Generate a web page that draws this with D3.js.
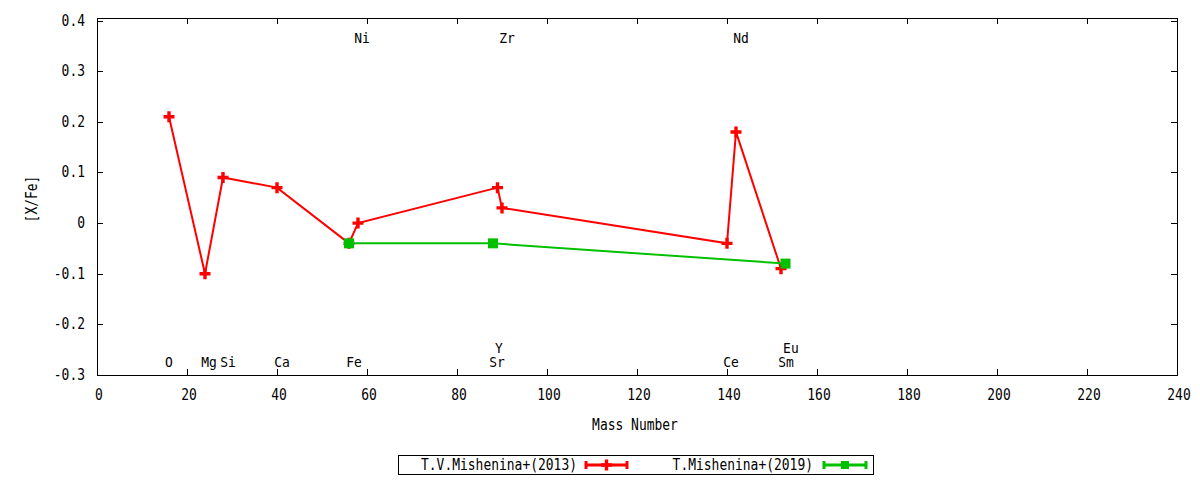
<!DOCTYPE html>
<html>
<head>
<meta charset="utf-8">
<script src="https://cdn.jsdelivr.net/npm/d3@7/dist/d3.min.js"></script>
<style>
  body { margin: 0; background: #fff; }
  text { font-family: "DejaVu Sans Mono", monospace; font-size: 15px; fill: #000; }
</style>
</head>
<body>
<svg id="chart" width="1200" height="480"></svg>
<script>
// ---- data ----
const series2013Mass  = [16, 24, 28, 40, 56, 58, 89, 90, 140, 142, 152];
const series2013Value = [0.21, -0.10, 0.09, 0.07, -0.04, 0.00, 0.07, 0.03, -0.04, 0.18, -0.09];
const series2019Mass  = [56, 88, 153];
const series2019Value = [-0.04, -0.04, -0.08];
const seriesNames = ["T.V.Mishenina+(2013)", "T.Mishenina+(2019)"];
const xTicks = [0, 20, 40, 60, 80, 100, 120, 140, 160, 180, 200, 220, 240];
const yTicks = [-0.3, -0.2, -0.1, 0, 0.1, 0.2, 0.3, 0.4];
const yTickLabels = ["-0.3", "-0.2", "-0.1", "0", "0.1", "0.2", "0.3", "0.4"];
// element labels: name, x position (mass units), row
const elemNames = ["O", "Mg", "Si", "Ca", "Fe", "Sr", "Y", "Ce", "Sm", "Eu", "Ni", "Zr", "Nd"];
const elemX     = [16, 24.9, 29.1, 41.1, 57.1, 88.9, 89.3, 140.9, 153.1, 154.2, 58.9, 91.1, 143.1];
const elemRow   = ["low", "low", "low", "low", "low", "low", "mid", "low", "low", "mid", "top", "top", "top"];
const rowValue  = { low: -0.275, mid: -0.247, top: 0.366 };

// ---- layout ----
const svg = d3.select("#chart");
const L = 97, R = 1177, T = 18, B = 375;
const x = d3.scaleLinear().domain([0, 240]).range([L, R]);
const y = d3.scaleLinear().domain([-0.3, 0.405]).range([B, T]);
const RED = "#ff0000", GREEN = "#00c000";
const CW = 7.8; // char width

function txt(g, s, px, py, anchor, fs) {
  const t = g.append("text").attr("x", px).attr("y", py).text(s)
    .attr("text-anchor", anchor || "middle")
    .attr("textLength", s.length * CW).attr("lengthAdjust", "spacingAndGlyphs");
  if (fs) t.style("font-size", fs + "px");
  return t;
}

// ticks (inside, mirrored)
const axes = svg.append("g").attr("stroke", "#000").attr("stroke-width", 1);
xTicks.forEach(v => {
  const px = Math.round(x(v)) + 0.5;
  axes.append("line").attr("x1", px).attr("x2", px).attr("y1", B).attr("y2", B - 6);
  axes.append("line").attr("x1", px).attr("x2", px).attr("y1", T).attr("y2", T + 6);
});
yTicks.forEach(v => {
  const py = Math.round(y(v)) + 0.5;
  axes.append("line").attr("x1", L).attr("x2", L + 6).attr("y1", py).attr("y2", py);
  axes.append("line").attr("x1", R).attr("x2", R - 6).attr("y1", py).attr("y2", py);
});
svg.append("rect").attr("x", L + 0.5).attr("y", T + 0.5).attr("width", R - L).attr("height", B - T)
  .attr("fill", "none").attr("stroke", "#000").attr("stroke-width", 1);

const labels = svg.append("g");
xTicks.forEach(v => txt(labels, String(v), x(v) + 2, 400));
yTicks.forEach((v, i) => txt(labels, yTickLabels[i], 85, y(v) + 5, "end"));

// axis titles
txt(labels, "Mass Number", 635, 430);
const yt = txt(labels, "[X/Fe]", 0, 0);
yt.attr("transform", "translate(37,199) rotate(-90)");

// element labels
elemNames.forEach((n, i) => txt(labels, n, x(elemX[i]), y(rowValue[elemRow[i]]) + 5, "middle", 13.5));

// marker drawers
function plusMarker(g, cx, cy, color) {
  g.append("path").attr("d", `M${cx - 5.5},${cy}H${cx + 5.5}M${cx},${cy - 5.5}V${cy + 5.5}`)
    .attr("stroke", color).attr("stroke-width", 3.4).attr("fill", "none");
}
function boxMarker(g, cx, cy, color) {
  g.append("rect").attr("x", cx - 5).attr("y", cy - 5).attr("width", 10).attr("height", 10).attr("fill", color);
}

const line = d3.line().x(d => x(d[0])).y(d => y(d[1]));
const d2013 = series2013Mass.map((m, i) => [m, series2013Value[i]]);
const d2019 = series2019Mass.map((m, i) => [m, series2019Value[i]]);

const plot = svg.append("g");
plot.append("path").datum(d2013).attr("d", line).attr("fill", "none").attr("stroke", RED).attr("stroke-width", 2);
d2013.forEach(d => plusMarker(plot, x(d[0]), y(d[1]), RED));
plot.append("path").datum(d2019).attr("d", line).attr("fill", "none").attr("stroke", GREEN).attr("stroke-width", 2);
d2019.forEach(d => boxMarker(plot, x(d[0]), y(d[1]), GREEN));

// legend
const lg = svg.append("g");
lg.append("rect").attr("x", 398.5).attr("y", 455.5).attr("width", 475).attr("height", 19)
  .attr("fill", "#fff").attr("stroke", "#000").attr("stroke-width", 1);
const legendItems = [
  { name: seriesNames[0], color: RED, tx: 577, x1: 585, x2: 628 },
  { name: seriesNames[1], color: GREEN, tx: 813, x1: 823, x2: 867 }
];
legendItems.forEach(it => {
  const cy = 465;
  txt(lg, it.name, it.tx, cy + 5, "end");
  lg.append("path").attr("d", `M${it.x1},${cy}H${it.x2}M${it.x1 + 1},${cy - 4}V${cy + 4}M${it.x2 - 1},${cy - 4}V${cy + 4}`)
    .attr("stroke", it.color).attr("stroke-width", 3).attr("fill", "none");
  const mx = (it.x1 + it.x2) / 2;
  if (it.color === GREEN) {
    lg.append("rect").attr("x", mx - 4).attr("y", cy - 4).attr("width", 8).attr("height", 8).attr("fill", it.color);
  } else {
    plusMarker(lg, mx, cy, it.color);
  }
});
</script>
</body>
</html>
